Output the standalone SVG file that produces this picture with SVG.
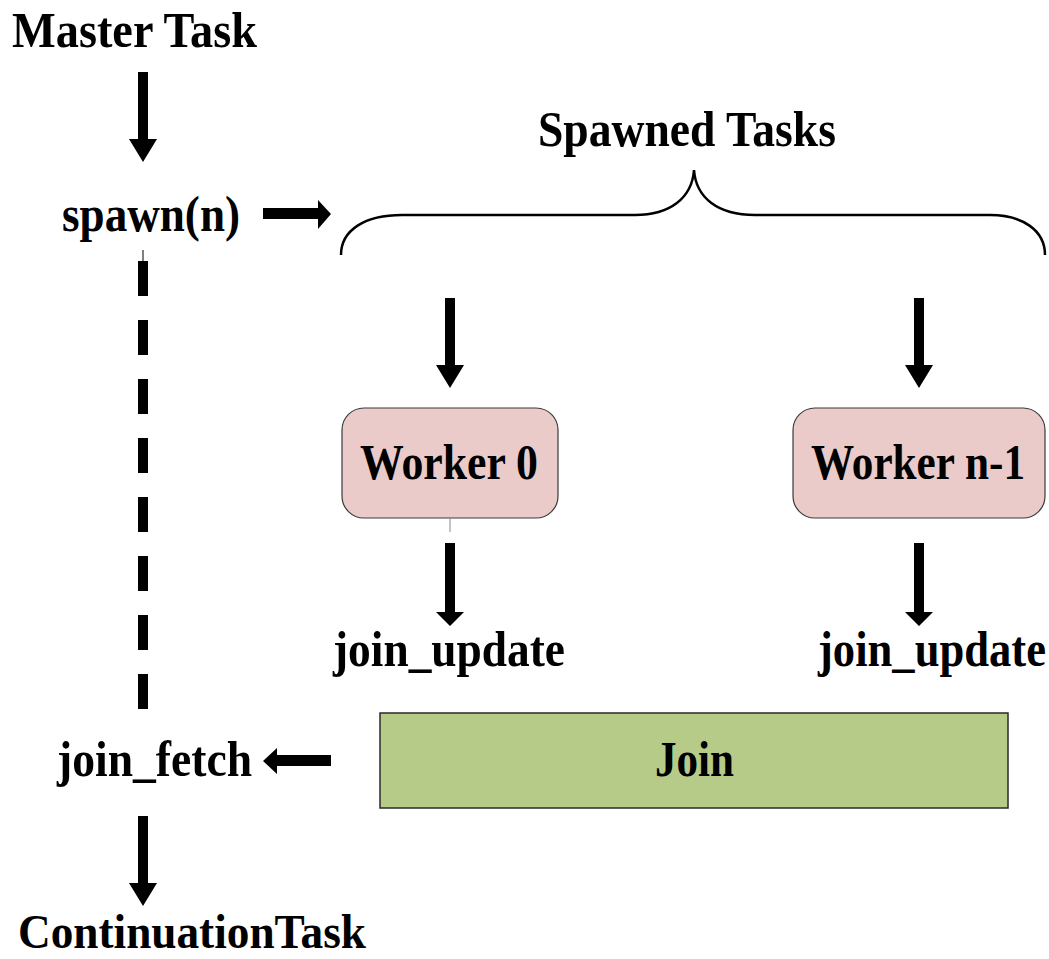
<svg xmlns="http://www.w3.org/2000/svg" width="1049" height="959" viewBox="0 0 1049 959">
  <style>
    .t { font-family: "Liberation Serif", "Times New Roman", serif; font-weight: bold; font-size: 45px; fill: #000; }
    .worker { fill: #ebcbca; stroke: #3a3a3a; stroke-width: 1.2; }
    .join { fill: #b7cb88; stroke: #2a2a2a; stroke-width: 1.5; }
    .arrow { fill: #000; }
    .brace { fill: none; stroke: #000; stroke-width: 2.5; }
  </style>
  <defs>
    <!-- long down arrow: shaft 10 wide, head 28 wide x 23 tall; origin at top-center -->
    <path id="downLong" class="arrow" d="M-5,0 H5 V67 H14 L0,90 L-14,67 H-5 Z"/>
    <!-- down arrow with short head -->
    <path id="downShort" class="arrow" d="M-5,0 H5 V69 H14 L0,83 L-14,69 H-5 Z"/>
  </defs>

  <g id="master-task">
    <text class="t" transform="translate(12,47) scale(1,1.13)" textLength="245" lengthAdjust="spacingAndGlyphs">Master Task</text>
  </g>
  <g id="spawn">
    <text class="t" transform="translate(62,231) scale(1,1.13)" textLength="178" lengthAdjust="spacingAndGlyphs">spawn(n)</text>
  </g>
  <g id="spawned-tasks">
    <text class="t" transform="translate(538,146) scale(1,1.13)" textLength="298" lengthAdjust="spacingAndGlyphs">Spawned Tasks</text>
    <path class="brace" d="M341,255 C341,230 365,215 402,215 L635,215 C670,215 692,198 694,170 C696,198 718,215 755,215 L990,215 C1022,215 1045,230 1045,255"/>
  </g>
  <g id="worker-0">
    <rect class="worker" x="342" y="408" width="216" height="110" rx="22" ry="22"/>
    <text class="t" transform="translate(360,479) scale(1,1.13)" textLength="178" lengthAdjust="spacingAndGlyphs">Worker 0</text>
  </g>
  <g id="worker-n-1">
    <rect class="worker" x="793" y="408" width="252" height="110" rx="22" ry="22"/>
    <text class="t" transform="translate(811,479) scale(1,1.13)" textLength="214" lengthAdjust="spacingAndGlyphs">Worker n-1</text>
  </g>
  <g id="join-update-0">
    <text class="t" transform="translate(333,666) scale(1,1.13)" textLength="232" lengthAdjust="spacingAndGlyphs">join_update</text>
  </g>
  <g id="join-update-n-1">
    <text class="t" transform="translate(818,666) scale(1,1.13)" textLength="228" lengthAdjust="spacingAndGlyphs">join_update</text>
  </g>
  <g id="join">
    <rect class="join" x="380" y="713" width="628" height="95"/>
    <text class="t" transform="translate(655,776) scale(1,1.13)" textLength="79" lengthAdjust="spacingAndGlyphs">Join</text>
  </g>
  <g id="join-fetch">
    <text class="t" transform="translate(57,776) scale(1,1.13)" textLength="195" lengthAdjust="spacingAndGlyphs">join_fetch</text>
  </g>
  <g id="continuation-task">
    <text class="t" transform="translate(18,948) scale(1,1.1)" textLength="348" lengthAdjust="spacingAndGlyphs">ContinuationTask</text>
  </g>

  <g id="connectors">
    <use href="#downLong" x="143" y="72"/>
    <path class="arrow" d="M263,208 H318 V200 L331,214 L318,229 V219 H263 Z"/>
    <line x1="143" y1="250" x2="143" y2="262" stroke="#000" stroke-width="1"/>
    <line x1="143" y1="261" x2="143" y2="712" stroke="#000" stroke-width="10" stroke-dasharray="35 24"/>
    <use href="#downLong" x="450" y="298"/>
    <use href="#downLong" x="919" y="298"/>
    <line x1="450" y1="518" x2="450" y2="532" stroke="#888" stroke-width="1"/>
    <use href="#downShort" x="450" y="543"/>
    <use href="#downShort" x="919" y="543"/>
    <path class="arrow" d="M331,755 H277 V748 L263,761 L277,774 V766 H331 Z"/>
    <use href="#downLong" x="143" y="816"/>
  </g>
</svg>
